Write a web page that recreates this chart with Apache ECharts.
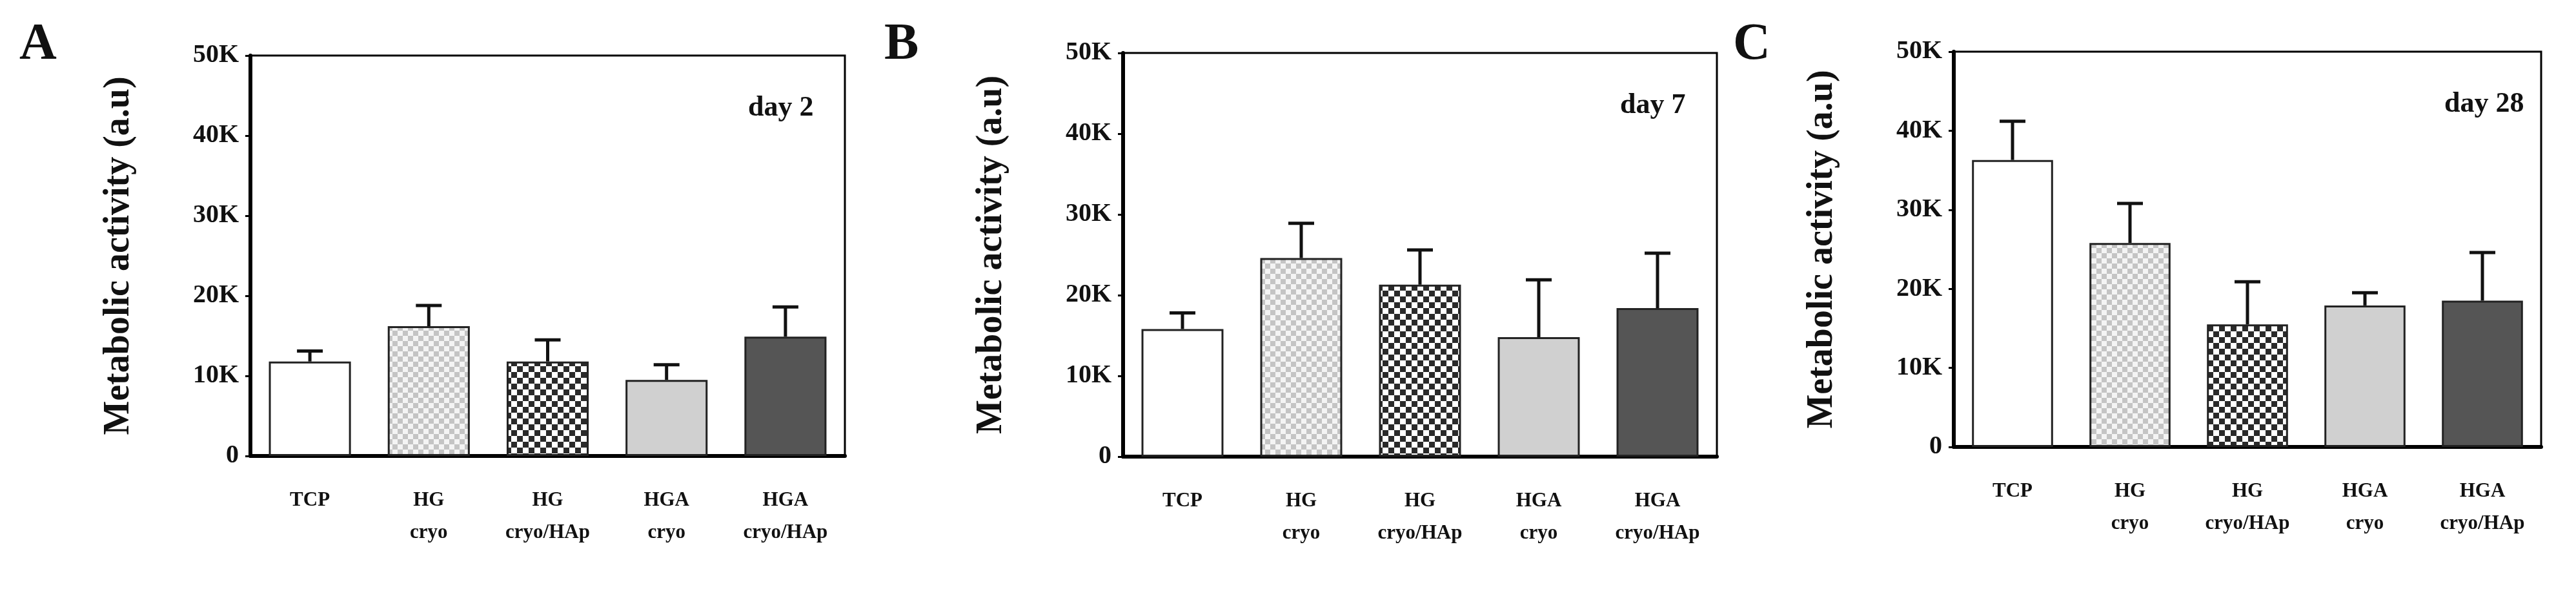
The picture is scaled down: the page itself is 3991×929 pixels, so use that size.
<!DOCTYPE html>
<html><head><meta charset="utf-8">
<script src="https://cdn.jsdelivr.net/npm/echarts@6/dist/echarts.min.js"></script>
<style>html,body{margin:0;background:#fff}#main{width:3991px;height:929px}</style>
</head><body><div id="main"></div>
<script>
var groups = ['TCP', 'HG\ncryo', 'HG\ncryo/HAp', 'HGA\ncryo', 'HGA\ncryo/HAp'];
var panelLetters = ['A', 'B', 'C'];
var dayLabels = ['day 2', 'day 7', 'day 28'];
// mean values (K)
var day2Mean = [11.8, 16.2, 11.8, 9.5, 14.9];
var day2Err = [1.3, 2.6, 2.7, 1.9, 3.7];
var day7Mean = [15.8, 24.6, 21.3, 14.8, 18.4];
var day7Err = [2.0, 4.3, 4.3, 7.1, 6.8];
var day28Mean = [36.3, 25.8, 15.5, 17.9, 18.5];
var day28Err = [4.9, 5.0, 5.4, 1.6, 6.1];
var yTicks = [0, 10, 20, 30, 40, 50];

var means = [day2Mean, day7Mean, day28Mean];
var errs = [day2Err, day7Err, day28Err];

// fill patterns
function pattern(bg, dot, step, size) {
  var c = document.createElement('canvas');
  c.width = step * 2; c.height = step * 2;
  var g = c.getContext('2d');
  g.fillStyle = bg; g.fillRect(0, 0, c.width, c.height);
  g.fillStyle = dot;
  g.fillRect(0, 0, size, size);
  g.fillRect(step, step, size, size);
  return {image: c, repeat: 'repeat'};
}
var fills = [
  '#ffffff',
  pattern('#f4f4f4', '#c4c4c4', 8, 8),
  pattern('#ffffff', '#2a2a2a', 9, 9),
  '#d0d0d0',
  '#555555'
];

var grids = [
  {left: 388, width: 921, top: 86, height: 620},
  {left: 1740, width: 920, top: 82, height: 625},
  {left: 3027, width: 910, top: 80, height: 612}
];
var font = '"Liberation Serif", "Times New Roman", serif';

var option = {
  backgroundColor: '#fff',
  animation: false,
  grid: [], xAxis: [], yAxis: [], series: [], graphic: []
};

grids.forEach(function (g, i) {
  option.grid.push({left: g.left, width: g.width, top: g.top, height: g.height,
    show: true, borderColor: '#000', borderWidth: 3, backgroundColor: '#fff'});
  option.xAxis.push({type: 'category', gridIndex: i, data: groups,
    axisLine: {lineStyle: {color: '#000', width: 6}},
    axisTick: {alignWithLabel: true, length: 14, lineStyle: {color: '#000', width: 4}},
    axisLabel: {fontFamily: font, fontWeight: 'bold', fontSize: 31, color: '#111', margin: 44, lineHeight: 50}
  });
  option.yAxis.push({type: 'value', gridIndex: i, min: 0, max: 50, interval: 10,
    name: 'Metabolic activity (a.u)', nameLocation: 'middle', nameGap: 175,
    nameTextStyle: {fontFamily: font, fontWeight: 'bold', fontSize: 56, color: '#111'},
    axisLine: {show: true, lineStyle: {color: '#000', width: 6}},
    axisTick: {show: true, length: 8, lineStyle: {color: '#000', width: 3}},
    splitLine: {show: false},
    axisLabel: {fontFamily: font, fontWeight: 'bold', fontSize: 40, color: '#111', margin: 18,
      formatter: function (v) { return v === 0 ? '0' : v + 'K'; }}
  });
  var data = means[i].map(function (v, k) {
    return {value: v, itemStyle: {color: fills[k]}};
  });
  option.series.push({type: 'bar', xAxisIndex: i, yAxisIndex: i, data: data, barWidth: '69%',
    itemStyle: {borderColor: '#222', borderWidth: 3}, z: 2});
  var eb = means[i].map(function (v, k) { return [k, v, v + errs[i][k]]; });
  option.series.push({type: 'custom', xAxisIndex: i, yAxisIndex: i, data: eb, z: 3,
    renderItem: function (params, api) {
      var lo = api.coord([api.value(0), api.value(1)]);
      var hi = api.coord([api.value(0), api.value(2)]);
      var w = 40;
      var st = {stroke: '#111', lineWidth: 5};
      return {type: 'group', children: [
        {type: 'line', shape: {x1: lo[0], y1: lo[1], x2: hi[0], y2: hi[1]}, style: st},
        {type: 'line', shape: {x1: hi[0] - w / 2, y1: hi[1], x2: hi[0] + w / 2, y2: hi[1]}, style: st}
      ]};
    }});
  option.graphic.push({type: 'text', left: g.left + g.width - 150, top: g.top + 60,
    style: {text: dayLabels[i], font: 'bold 44px ' + font, fill: '#111'}});
});
option.graphic.push({type: 'text', left: 30, top: 30, style: {text: 'A', font: 'bold 80px ' + font, fill: '#111'}});
option.graphic.push({type: 'text', left: 1370, top: 30, style: {text: 'B', font: 'bold 80px ' + font, fill: '#111'}});
option.graphic.push({type: 'text', left: 2685, top: 30, style: {text: 'C', font: 'bold 80px ' + font, fill: '#111'}});

var chart = echarts.init(document.getElementById('main'));
chart.setOption(option);
</script></body></html>
